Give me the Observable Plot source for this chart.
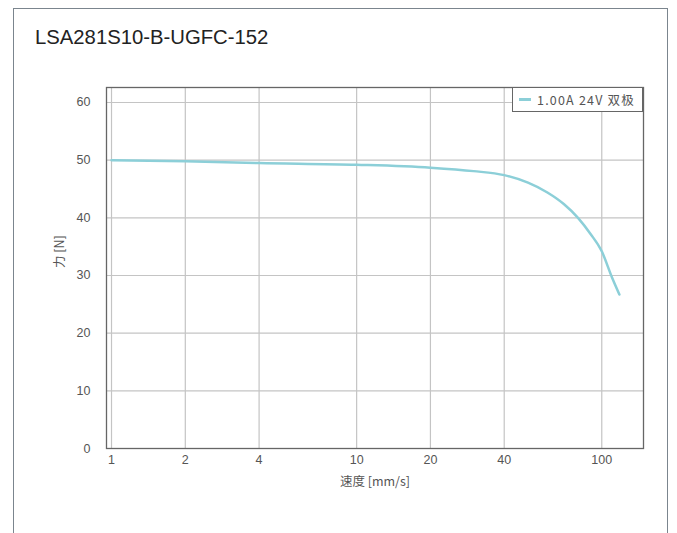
<!DOCTYPE html>
<html>
<head>
<meta charset="utf-8">
<script src="https://cdn.jsdelivr.net/npm/d3@7"></script>
<script src="https://cdn.jsdelivr.net/npm/@observablehq/plot@0.6"></script>
<style>
  html, body { margin: 0; padding: 0; background: #fff; }
  body { width: 677px; height: 533px; position: relative; overflow: hidden;
         font-family: "Liberation Sans", Arial, "Noto Sans CJK SC", sans-serif; }
  #frame { position: absolute; left: 13px; top: 8px; width: 655px; height: 560px;
           border: 1.5px solid #7b858e; box-sizing: border-box; }
  #title { position: absolute; left: 35px; top: 26px; font-size: 20.3px; color: #222; }
  #chart { position: absolute; left: 0; top: 60px; }
  #legend { position: absolute; left: 512px; top: 87px; width: 131px; height: 25px; box-sizing: border-box;
            border: 1px solid #666; background: #fff; font-size: 12.5px; color: #555;
            display: flex; align-items: center; padding-left: 6px; white-space: nowrap;
            font-family: "Noto Sans CJK SC", "Liberation Sans", sans-serif; letter-spacing: 1.2px; }
  #legend .sw { display: inline-block; width: 12px; height: 2.5px; background: #8ccfd8; margin-right: 6px; }
</style>
</head>
<body>
<div id="frame"></div>
<div id="title">LSA281S10-B-UGFC-152</div>
<div id="chart"></div>
<div id="legend"><span class="sw"></span><span id="legendText"></span></div>
<script>
const seriesName = "1.00A 24V 双极";
const speed = [1, 2, 4, 10, 20, 30, 40, 50, 60, 70, 80, 90, 100, 110, 118];
const force = [50.0, 49.8, 49.5, 49.2, 48.7, 48.1, 47.4, 46.1, 44.4, 42.4, 40.0, 37.2, 34.2, 29.7, 26.7];
const xTicks = [1, 2, 4, 10, 20, 40, 100];
const yTicks = [0, 10, 20, 30, 40, 50, 60];
const xLabel = "速度 [mm/s]";
const yLabel = "力 [N]";

document.getElementById("legendText").textContent = seriesName;
const data = speed.map((s, i) => ({speed: s, force: force[i]}));
const cjk = '"Noto Sans CJK SC", "Liberation Sans", sans-serif';

const chart = Plot.plot({
  width: 677,
  height: 473,
  marginLeft: 106,
  marginRight: 34,
  marginTop: 27,
  marginBottom: 85,
  style: {fontFamily: '"Liberation Sans", Arial, "Noto Sans CJK SC", sans-serif', fontSize: "12px", color: "#555", background: "transparent"},
  x: {type: "log", domain: [0.954, 148], label: null, axis: null},
  y: {domain: [0, 62.6], label: null, axis: null},
  marks: [
    Plot.gridX(xTicks, {stroke: "#c4c4c4", strokeOpacity: 1, strokeWidth: 1.2}),
    Plot.gridY(yTicks, {stroke: "#c4c4c4", strokeOpacity: 1, strokeWidth: 1.2}),
    Plot.text(xTicks, {x: d => d, text: d => String(d), frameAnchor: "bottom", dy: 15, fontSize: 12.5, fill: "#555"}),
    Plot.text(yTicks, {y: d => d, text: d => String(d), frameAnchor: "left", dx: -16, textAnchor: "end", fontSize: 12.5, fill: "#555"}),
    Plot.line(data, {x: "speed", y: "force", stroke: "#8ccfd8", strokeWidth: 2.5, curve: "monotone-x"}),
    Plot.frame({stroke: "#666", strokeWidth: 1.3}),
    Plot.text([xLabel], {frameAnchor: "bottom", dy: 37, fontSize: 12.5, fill: "#555", fontFamily: cjk}),
    Plot.text([yLabel], {frameAnchor: "left", dx: -47, rotate: -90, fontSize: 12.5, fill: "#555", fontFamily: cjk})
  ]
});
document.getElementById("chart").appendChild(chart);
</script>
</body>
</html>
